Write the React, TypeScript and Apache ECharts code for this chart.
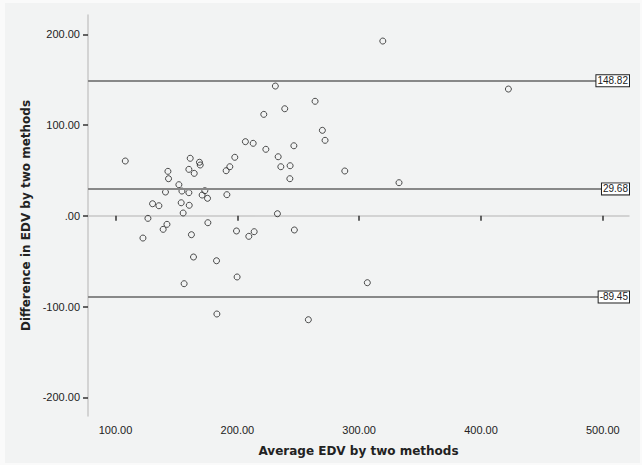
import React, { useEffect, useRef } from "react";
import * as echarts from "echarts";

const avgEDV = [
  108.0, 161.3, 168.9, 169.5, 143.0, 160.2, 164.6, 143.5, 152.0, 141.0,
  154.5, 160.2, 173.3, 171.1, 175.5, 191.4, 197.9, 193.8, 190.8, 206.6,
  213.0, 223.4, 233.5, 235.7, 243.3, 243.1, 246.4, 130.4, 135.6, 153.9,
  160.5, 155.5, 126.6, 142.2, 139.1, 122.5, 162.3, 175.8, 199.3, 213.8,
  209.4, 232.9, 246.8, 164.0, 182.9, 199.8, 156.3, 183.2, 306.7, 258.3,
  332.7, 231.2, 263.8, 238.9, 221.7, 269.8, 272.0, 288.2, 319.4, 422.5,
];
const diffEDV = [
  60.4, 63.4, 59.0, 56.0, 49.0, 51.2, 46.8, 40.9, 34.3, 26.2,
  27.3, 25.5, 27.7, 22.9, 19.3, 23.3, 64.5, 54.1, 49.7, 81.7,
  79.9, 73.3, 65.1, 54.1, 55.2, 40.9, 77.2, 13.3, 11.1, 14.4,
  11.6, 3.1, -2.8, -9.4, -14.9, -24.5, -20.8, -7.6, -16.7, -17.5,
  -22.6, 2.3, -15.6, -45.4, -49.5, -67.4, -74.8, -108.2, -73.7, -114.5,
  36.5, 143.0, 126.2, 118.0, 111.8, 94.2, 83.2, 49.4, 192.6, 139.7,
];
const refLines = [148.82, 29.68, -89.45];
const xTicks = [100, 200, 300, 400, 500];
const yTicks = [-200, -100, 0, 100, 200];
const xTitle = "Average EDV by two methods";
const yTitle = "Difference in EDV by two methods";

const fmt = (v: number) => {
  if (v === 0) return ".00";
  const s = v.toFixed(2);
  return s.replace(/^(-?)0\./, "$1.");
};

export default function App() {
  const ref = useRef<HTMLDivElement>(null);
  useEffect(() => {
    if (!ref.current) return;
    const chart = echarts.init(ref.current, null, { renderer: "svg" });
    const tickFont = {
      fontFamily: "Liberation Sans, Arial, sans-serif",
      fontSize: 11,
      color: "#222",
    };
    const nameFont = {
      fontFamily: "DejaVu Sans, Verdana, sans-serif",
      fontSize: 12,
      fontWeight: "bold" as const,
      color: "#222",
    };
    chart.setOption({
      animation: false,
      backgroundColor: "#fafafa",
      graphic: [
        {
          type: "rect",
          z: -10,
          silent: true,
          shape: { x: 5, y: 3, width: 635, height: 460 },
          style: { fill: "#f2f3f3" },
        },
      ],
      grid: { left: 88, right: 13, top: 15, bottom: 49 },
      xAxis: {
        type: "value",
        min: 77.4,
        max: 521.5,
        name: xTitle,
        nameLocation: "middle",
        nameGap: 29,
        nameTextStyle: nameFont,
        axisLine: { show: true, lineStyle: { color: "#c8c8c8", width: 1.5 } },
        axisTick: {
          show: true,
          customValues: xTicks,
          length: 5,
          lineStyle: { color: "#333", width: 1.5 },
        },
        axisLabel: {
          customValues: xTicks,
          formatter: (v: number) => fmt(v),
          margin: 8,
          ...tickFont,
        },
        splitLine: { show: false },
      },
      yAxis: {
        type: "value",
        min: -220.6,
        max: 221.3,
        name: yTitle,
        nameLocation: "middle",
        nameGap: 55,
        nameTextStyle: nameFont,
        axisLine: { show: true, lineStyle: { color: "#c8c8c8", width: 1.5 } },
        axisTick: {
          show: true,
          customValues: yTicks,
          length: 5,
          lineStyle: { color: "#333", width: 1.5 },
        },
        axisLabel: {
          customValues: yTicks,
          formatter: (v: number) => fmt(v),
          margin: 8,
          ...tickFont,
        },
        splitLine: { show: false },
      },
      series: [
        {
          type: "scatter",
          data: avgEDV.map((x, i) => [x, diffEDV[i]]),
          symbol: "circle",
          symbolSize: 6,
          itemStyle: {
            color: "rgba(0,0,0,0)",
            borderColor: "#222",
            borderWidth: 1,
          },
          markLine: {
            silent: true,
            symbol: "none",
            lineStyle: { color: "#888", width: 2, type: "solid" },
            label: {
              show: true,
              position: "insideEnd",
              distance: 0,
              formatter: (p: any) => p.value.toFixed(2),
              fontFamily: "Liberation Sans, Arial, sans-serif",
              fontSize: 10,
              color: "#222",
              backgroundColor: "#ffffff",
              borderColor: "#222",
              borderWidth: 1,
              padding: [1, 1, 0, 1],
            },
            data: refLines.map((v) => ({ yAxis: v })),
          },
        },
      ],
    });
    return () => chart.dispose();
  }, []);
  return (
    <div
      ref={ref}
      style={{ position: "absolute", left: 0, top: 0, width: 642, height: 465 }}
    />
  );
}
